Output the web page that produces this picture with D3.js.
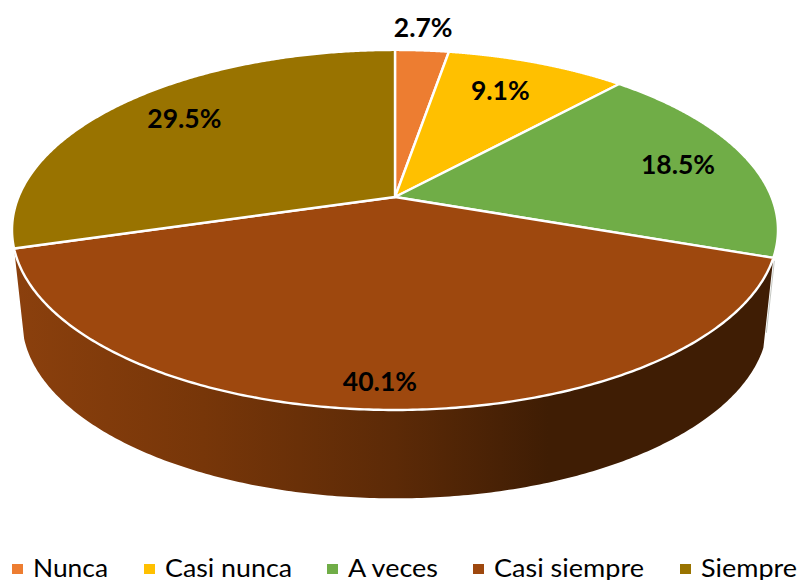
<!DOCTYPE html>
<html><head><meta charset="utf-8">
<script src="https://cdn.jsdelivr.net/npm/d3@7"></script>
<style>html,body{margin:0;padding:0;background:#fff}svg{display:block}</style></head>
<body><div id="chart"></div>
<script>
const categories = ["Nunca","Casi nunca","A veces","Casi siempre","Siempre"];
const values = [2.7,9.1,18.5,40.1,29.5];
const colors = ["#ED7D31","#FFC000","#70AD47","#9E480E","#997300"];
const labelRadius = [1.19,0.77,0.80,0.89,0.82];
const labelNudgeX = [-3,-8,1,-5,16];
const legendSwatchX = [12,144,327,473,680];
const legendTextX = [33,165,348,494,701];
const legendTextW = [75,127,90,150,96];

const W=800,H=580,cx=395,cy=197,p=0.183;
const svg=d3.select("#chart").append("svg").attr("width",W).attr("height",H);
const rimTop={a:174,b:376.5,y:cy};
const rimBot={a:172.2,b:366.6,y:cy+90.6};
const proj=(t,g,f=1)=>{const w=1+p*f*Math.cos(t);return [cx+g.b*f*Math.sin(t)/w,g.y-g.a*f*Math.cos(t)/w];};
const arcs=d3.pie().sort(null).value(d=>d)(values);
const line=d3.line();
const sample=(a0,a1,g)=>d3.range(0,241).map(i=>proj(a0+(a1-a0)*i/240,g));

const defs=svg.append("defs");
const grad=defs.append("linearGradient").attr("id","wall").attr("gradientUnits","userSpaceOnUse")
  .attr("x1",12).attr("x2",778).attr("y1",0).attr("y2",0);
[[0,"#8b400d"],[0.25,"#773609"],[0.5,"#5c2a07"],[0.7,"#3f1d04"],[1,"#3f1d04"]].forEach(s=>grad.append("stop").attr("offset",s[0]).attr("stop-color",s[1]));

// side wall of the front slice
const front=arcs[3];
const wallPts=sample(front.startAngle,front.endAngle,rimTop).concat(sample(front.endAngle,front.startAngle,rimBot));
svg.append("path").attr("d",line(wallPts)+"Z").attr("fill","url(#wall)");

// thin light seam at the right end of the wall
const seamA=proj(front.startAngle,rimTop), seamB=proj(front.startAngle,rimBot);
svg.append("line").attr("x1",seamA[0]+1).attr("y1",seamA[1]+3)
  .attr("x2",seamA[0]+1+(seamB[0]-seamA[0])*0.8).attr("y2",seamA[1]+3+(seamB[1]-seamA[1])*0.8)
  .attr("stroke","#b5b9b2").attr("stroke-width",0.8);

// top faces
arcs.forEach((d,i)=>{
  const pts=[[cx,cy]].concat(sample(d.startAngle,d.endAngle,rimTop));
  svg.append("path").attr("d",line(pts)+"Z").attr("fill",colors[i]).attr("stroke","#fff").attr("stroke-width",2.4).attr("stroke-linejoin","round");
});

// data labels
arcs.forEach((d,i)=>{
  const m=(d.startAngle+d.endAngle)/2, q=proj(m,rimTop,labelRadius[i]);
  svg.append("text").attr("x",q[0]+labelNudgeX[i]).attr("y",q[1]+9.5)
    .attr("text-anchor","middle").attr("font-family","Lato").attr("font-weight",700).attr("font-size",26.5).attr("fill","#000")
    .text(d3.format(".1f")(values[i])+"%");
});

// legend
categories.forEach((c,i)=>{
  svg.append("rect").attr("x",legendSwatchX[i]).attr("y",564).attr("width",11).attr("height",10).attr("fill",colors[i]);
  svg.append("text").attr("x",legendTextX[i]).attr("y",577).attr("font-family","Lato").attr("font-size",25).attr("fill","#000")
    .attr("textLength",legendTextW[i]).attr("lengthAdjust","spacingAndGlyphs").text(c);
});
</script></body></html>
